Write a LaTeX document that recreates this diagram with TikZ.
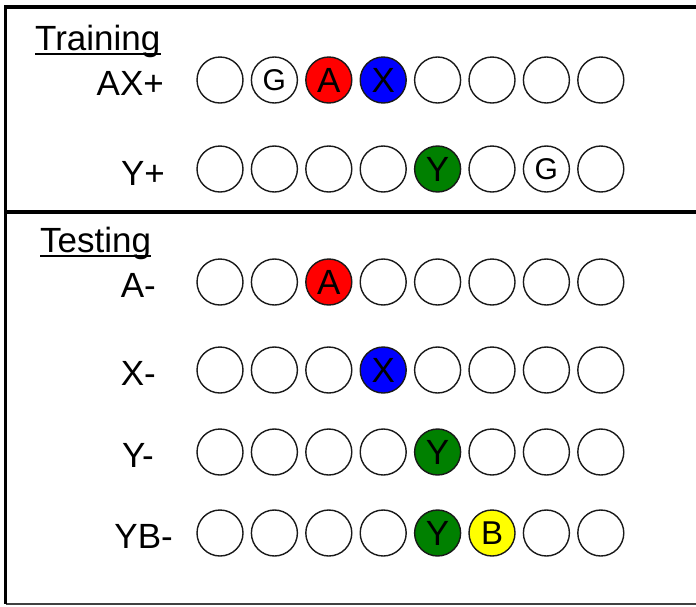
\documentclass[tikz,border=0pt]{standalone}
\usepackage{fontspec}
\setmainfont{Liberation Sans}
\definecolor{cred}{RGB}{255,0,0}
\definecolor{cblue}{RGB}{0,0,255}
\definecolor{cgreen}{RGB}{0,128,0}
\definecolor{cyellow}{RGB}{255,255,0}
\newcommand{\bigtxt}{\fontsize{35}{40}\selectfont}
\newcommand{\cl}[1]{\raisebox{-2pt}{\fontsize{35}{40}\selectfont #1}}
\newcommand{\gl}{\raisebox{-1.5pt}{\fontsize{30}{34}\selectfont G}}
\newcommand{\bl}{\raisebox{-2pt}{\fontsize{33}{38}\selectfont B}}
\begin{document}
\begin{tikzpicture}[x=1pt,y=-1pt,
  slot/.style={circle, draw=black!90, line width=1.4pt, minimum size=46pt, inner sep=0pt, fill=#1},
  slot/.default=white,
  lbl/.style={inner sep=0pt, font=\bigtxt, anchor=base east},
  head/.style={inner sep=0pt, font=\bigtxt, anchor=base west},
  frame/.style={line width=3.5pt, black}]
\useasboundingbox (0,0) rectangle (696,606);
% frame
\coordinate (tl) at (4,7);
\coordinate (tr) at (700,7);
\coordinate (ml) at (5.5,212);
\coordinate (mr) at (700,212);
\coordinate (bl) at (5.5,604);
\coordinate (br) at (700,604);
\draw[frame] (tl) -- (tr);
\draw[frame] (ml) -- (mr);
\draw[line width=2pt, black!75] (bl) -- (br);
\draw[line width=3pt, black] (5.5,5) -- (bl);
% headings
\node[head] (train) at (35,50) {Training};
\draw[line width=1.8pt] ([yshift=-4pt]train.base west) -- ([yshift=-4pt]train.base east);
\node[head] (test) at (40,252) {Testing};
\draw[line width=1.8pt] ([yshift=-4pt]test.base west) -- ([yshift=-4pt]test.base east);
% row labels
\node[lbl] (lab1) at (164,95) {AX+};
\node[lbl] (lab2) at (165,185) {Y+};
\node[lbl] (lab3) at (156,297) {A-};
\node[lbl] (lab4) at (156,385) {X-};
\node[lbl] (lab5) at (154,467) {Y-};
\node[lbl] (lab6) at (173,548) {YB-};
% rows of slots
\foreach \i/\t/\c in {0//white,1/\gl/white,2/\cl{A}/cred,3/\cl{X}/cblue,4//white,5//white,6//white,7//white}
  \node[slot=\c] (a\i) at (220+54.4*\i,80) {\t};
\foreach \i/\t/\c in {0//white,1//white,2//white,3//white,4/\cl{Y}/cgreen,5//white,6/\gl/white,7//white}
  \node[slot=\c] (b\i) at (220+54.4*\i,169) {\t};
\foreach \i/\t/\c in {0//white,1//white,2/\cl{A}/cred,3//white,4//white,5//white,6//white,7//white}
  \node[slot=\c] (c\i) at (220+54.4*\i,282) {\t};
\foreach \i/\t/\c in {0//white,1//white,2//white,3/\cl{X}/cblue,4//white,5//white,6//white,7//white}
  \node[slot=\c] (d\i) at (220+54.4*\i,370) {\t};
\foreach \i/\t/\c in {0//white,1//white,2//white,3//white,4/\cl{Y}/cgreen,5//white,6//white,7//white}
  \node[slot=\c] (e\i) at (220+54.4*\i,452) {\t};
\foreach \i/\t/\c in {0//white,1//white,2//white,3//white,4/\cl{Y}/cgreen,5/\bl/cyellow,6//white,7//white}
  \node[slot=\c] (f\i) at (220+54.4*\i,533) {\t};
\end{tikzpicture}
\end{document}
